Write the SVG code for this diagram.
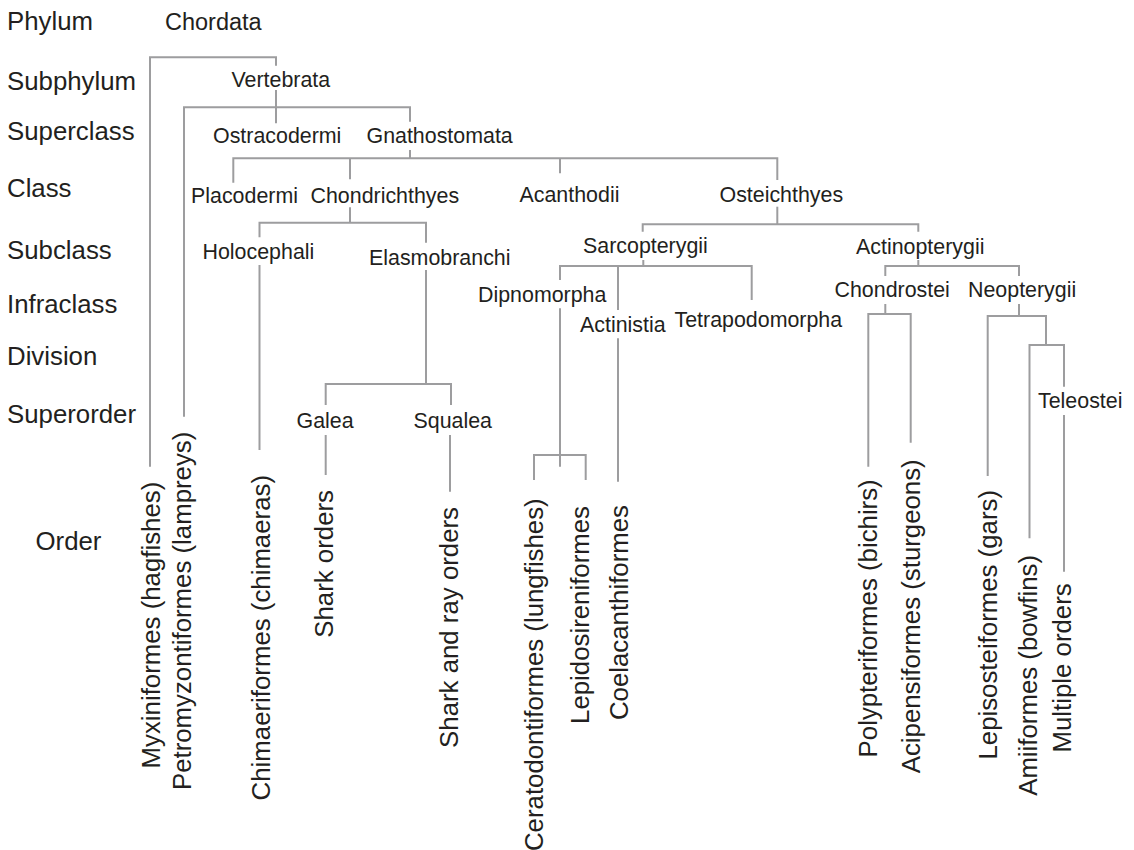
<svg xmlns="http://www.w3.org/2000/svg" width="1134" height="850" viewBox="0 0 1134 850">
<style>
.bg{fill:#ffffff}
.rank{font-family:"Liberation Sans",Arial,sans-serif;font-size:25.8px;fill:#231f20}
.node{font-family:"Liberation Sans",Arial,sans-serif;font-size:21.4px;fill:#231f20}
.ord{font-family:"Liberation Sans",Arial,sans-serif;font-size:25.8px;fill:#231f20;text-anchor:end}
.ln{fill:none;stroke:#9d9d9f;stroke-width:2}
</style>
<rect class="bg" x="0" y="0" width="1134" height="850"/>
<g id="ranks">
<text class="rank" x="7" y="30">Phylum</text>
<text class="rank" x="7" y="90">Subphylum</text>
<text class="rank" x="7" y="140">Superclass</text>
<text class="rank" x="7" y="196.7">Class</text>
<text class="rank" x="7" y="259.3">Subclass</text>
<text class="rank" x="7" y="312.7">Infraclass</text>
<text class="rank" x="7" y="365">Division</text>
<text class="rank" x="7" y="423.3">Superorder</text>
<text class="rank" x="35.5" y="550">Order</text>
</g>
<g id="connectors">
<path class="ln" d="M150,466.7 V57.3 H276 V65.7"/>
<path class="ln" d="M276,90 V123.3"/>
<path class="ln" d="M184,416.7 V107.3 H410 V121.7"/>
<path class="ln" d="M410,150 V158.3"/>
<path class="ln" d="M233.3,182.7 V158.3 H777.3 V180"/>
<path class="ln" d="M350,158.3 V179.3"/>
<path class="ln" d="M560,158.3 V173.3"/>
<path class="ln" d="M350,207.3 V222.7"/>
<path class="ln" d="M259.5,237.3 V222.7 H426 V242.7"/>
<path class="ln" d="M259.5,265 V450"/>
<path class="ln" d="M426,270 V384"/>
<path class="ln" d="M325.7,405 V384 H451 V405"/>
<path class="ln" d="M325.7,435 V475"/>
<path class="ln" d="M450,435 V491.7"/>
<path class="ln" d="M777.3,206.7 V224.3"/>
<path class="ln" d="M642.7,231.7 V224.3 H918.3 V231.7"/>
<path class="ln" d="M643.3,260 V266"/>
<path class="ln" d="M560,280 V266 H751.7 V300"/>
<path class="ln" d="M618,266 V310"/>
<path class="ln" d="M560,308.3 V466.7"/>
<path class="ln" d="M534,480 V455 H585.7 V480"/>
<path class="ln" d="M618,338.3 V481.7"/>
<path class="ln" d="M918.3,260 V266"/>
<path class="ln" d="M885.3,276 V266 H1019 V276"/>
<path class="ln" d="M885.3,304 V314"/>
<path class="ln" d="M868.3,466.7 V314 H910.7 V442.7"/>
<path class="ln" d="M1019,304 V316"/>
<path class="ln" d="M987.7,476 V316 H1046 V345"/>
<path class="ln" d="M1029.5,538.3 V345 H1064 V386.7"/>
<path class="ln" d="M1064,415 V571.7"/>
</g>
<g id="n-chordata"><text class="node" x="165" y="30" style="font-size:23.5px">Chordata</text></g>
<g id="n-vertebrata"><text class="node" x="231.5" y="87.3">Vertebrata</text></g>
<g id="n-ostracodermi"><text class="node" x="213" y="143.3">Ostracodermi</text></g>
<g id="n-gnathostomata"><text class="node" x="366.5" y="143.3">Gnathostomata</text></g>
<g id="n-placodermi"><text class="node" x="191" y="203.3">Placodermi</text></g>
<g id="n-chondrichthyes"><text class="node" x="310.5" y="203.3">Chondrichthyes</text></g>
<g id="n-acanthodii"><text class="node" x="519.5" y="201.7">Acanthodii</text></g>
<g id="n-osteichthyes"><text class="node" x="719.5" y="201.7">Osteichthyes</text></g>
<g id="n-holocephali"><text class="node" x="202.5" y="259.3">Holocephali</text></g>
<g id="n-elasmobranchi"><text class="node" x="369" y="265">Elasmobranchi</text></g>
<g id="n-sarcopterygii"><text class="node" x="583" y="253">Sarcopterygii</text></g>
<g id="n-actinopterygii"><text class="node" x="856" y="254">Actinopterygii</text></g>
<g id="n-dipnomorpha"><text class="node" x="478" y="301.7">Dipnomorpha</text></g>
<g id="n-actinistia"><text class="node" x="580" y="331.7">Actinistia</text></g>
<g id="n-tetrapodomorpha"><text class="node" x="674.5" y="326.7">Tetrapodomorpha</text></g>
<g id="n-chondrostei"><text class="node" x="834.5" y="296.7">Chondrostei</text></g>
<g id="n-neopterygii"><text class="node" x="968" y="297">Neopterygii</text></g>
<g id="n-galea"><text class="node" x="296.5" y="428.3">Galea</text></g>
<g id="n-squalea"><text class="node" x="413.5" y="428.3">Squalea</text></g>
<g id="n-teleostei"><text class="node" x="1038" y="408.3">Teleostei</text></g>
<g id="o-myxiniformes"><text class="ord" transform="translate(160,481.7) rotate(-90)">Myxiniformes (hagfishes)</text></g>
<g id="o-petromyzontiformes"><text class="ord" transform="translate(190.7,431.7) rotate(-90)">Petromyzontiformes (lampreys)</text></g>
<g id="o-chimaeriformes"><text class="ord" transform="translate(270,475) rotate(-90)">Chimaeriformes (chimaeras)</text></g>
<g id="o-shark"><text class="ord" transform="translate(333.3,490) rotate(-90)">Shark orders</text></g>
<g id="o-sharkray"><text class="ord" transform="translate(458.3,507) rotate(-90)">Shark and ray orders</text></g>
<g id="o-ceratodontiformes"><text class="ord" transform="translate(543.3,498.3) rotate(-90)">Ceratodontiformes (lungfishes)</text></g>
<g id="o-lepidosireniformes"><text class="ord" transform="translate(589,506) rotate(-90)">Lepidosireniformes</text></g>
<g id="o-coelacanthiformes"><text class="ord" transform="translate(628,505) rotate(-90)">Coelacanthiformes</text></g>
<g id="o-polypteriformes"><text class="ord" transform="translate(876.7,479.3) rotate(-90)">Polypteriformes (bichirs)</text></g>
<g id="o-acipensiformes"><text class="ord" transform="translate(920,459.3) rotate(-90)">Acipensiformes (sturgeons)</text></g>
<g id="o-lepisosteiformes"><text class="ord" transform="translate(996.7,490) rotate(-90)">Lepisosteiformes (gars)</text></g>
<g id="o-amiiformes"><text class="ord" transform="translate(1036.7,555) rotate(-90)">Amiiformes (bowfins)</text></g>
<g id="o-multiple"><text class="ord" transform="translate(1070.7,583.3) rotate(-90)">Multiple orders</text></g>
</svg>
